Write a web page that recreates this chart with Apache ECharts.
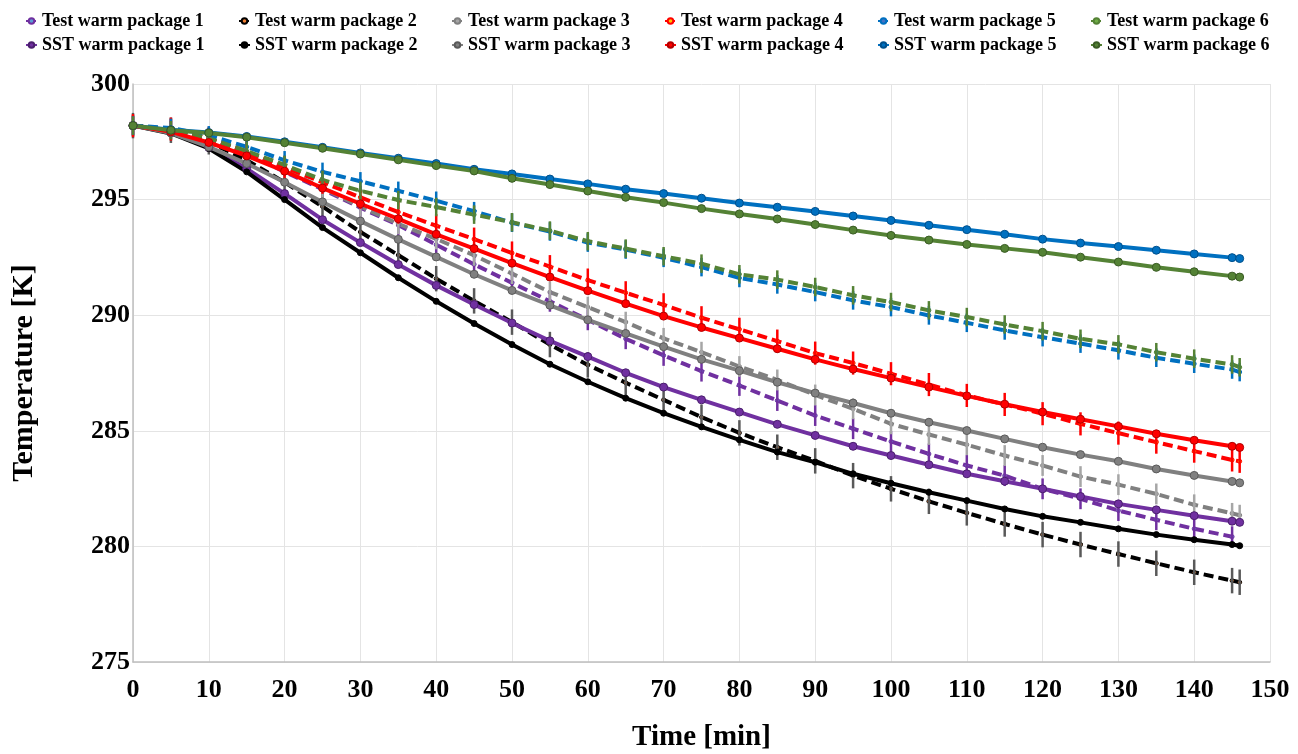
<!DOCTYPE html>
<html>
<head>
<meta charset="utf-8">
<script src="https://cdn.jsdelivr.net/npm/echarts@6/dist/echarts.min.js"></script>
<style>html,body{margin:0;padding:0;background:#fff}#c{width:1298px;height:754px}</style>
</head>
<body>
<div id="c"></div>
<script>
const times = [0,5,10,15,20,25,30,35,40,45,50,55,60,65,70,75,80,85,90,95,100,105,110,115,120,125,130,135,140,145,146];
const xTicks = [0,10,20,30,40,50,60,70,80,90,100,110,120,130,140,150];
const yTicks = [275,280,285,290,295,300];

const testNames = ['Test warm package 1','Test warm package 2','Test warm package 3','Test warm package 4','Test warm package 5','Test warm package 6'];
const sstNames  = ['SST warm package 1','SST warm package 2','SST warm package 3','SST warm package 4','SST warm package 5','SST warm package 6'];

// Test (measured) series - dashed with error bars
const test1 = [298.2,298.05,297.65,297.0,296.2,295.45,294.65,293.9,293.05,292.2,291.4,290.6,289.8,288.98,288.26,287.58,286.96,286.31,285.66,285.09,284.54,284.0,283.5,283.06,282.49,282.06,281.55,281.15,280.76,280.42,null];
const test2 = [298.2,298.0,297.5,296.7,295.75,294.7,293.6,292.6,291.58,290.62,289.7,288.73,287.85,287.08,286.34,285.59,284.91,284.29,283.7,283.06,282.49,281.95,281.45,280.97,280.51,280.08,279.67,279.27,278.88,278.52,278.45];
const test3 = [298.2,298.05,297.65,297.05,296.3,295.5,294.7,293.95,293.3,292.59,291.8,291.0,290.35,289.7,289.0,288.4,287.78,287.2,286.55,285.95,285.3,284.84,284.4,283.93,283.5,283.02,282.67,282.27,281.8,281.43,281.35];
const test4 = [298.2,298.05,297.65,297.05,296.4,295.75,295.1,294.46,293.87,293.29,292.69,292.1,291.52,290.97,290.45,289.89,289.39,288.88,288.36,287.93,287.47,287.0,286.53,286.14,285.74,285.3,284.9,284.51,284.12,283.74,283.68];
const test5 = [298.2,298.1,297.78,297.28,296.7,296.2,295.79,295.38,294.95,294.5,294.0,293.62,293.14,292.84,292.48,292.08,291.61,291.33,291.0,290.64,290.35,289.99,289.67,289.34,289.05,288.77,288.48,288.16,287.9,287.65,287.54];
const test6 = [298.2,298.0,297.65,297.1,296.5,295.85,295.38,294.98,294.68,294.35,294.02,293.66,293.2,292.88,292.55,292.23,291.77,291.54,291.22,290.86,290.57,290.21,289.92,289.6,289.31,288.98,288.74,288.4,288.12,287.87,287.75];
const testErr = [0.45,0.55,0.45,0.5,0.4,0.4];

// SST (simulated) series - solid
const sst1 = [298.2,297.9,297.25,296.34,295.26,294.13,293.14,292.19,291.29,290.46,289.66,288.89,288.21,287.51,286.89,286.34,285.81,285.28,284.8,284.33,283.93,283.53,283.14,282.82,282.49,282.16,281.84,281.58,281.33,281.09,281.04];
const sst2 = [298.2,297.86,297.21,296.2,295.0,293.79,292.7,291.62,290.6,289.64,288.73,287.88,287.12,286.41,285.76,285.17,284.61,284.08,283.64,283.14,282.73,282.34,281.98,281.62,281.3,281.04,280.76,280.51,280.29,280.08,280.03];
const sst3 = [298.2,297.88,297.28,296.56,295.75,294.9,294.07,293.28,292.52,291.77,291.07,290.43,289.8,289.21,288.64,288.09,287.6,287.1,286.63,286.2,285.76,285.37,285.01,284.65,284.29,283.97,283.68,283.35,283.07,282.81,282.75];
const sst4 = [298.2,297.93,297.47,296.89,296.23,295.5,294.82,294.17,293.5,292.88,292.25,291.65,291.06,290.5,289.96,289.47,289.01,288.55,288.09,287.67,287.28,286.89,286.51,286.15,285.81,285.5,285.19,284.87,284.59,284.33,284.28];
const sst5 = [298.2,298.02,297.9,297.73,297.5,297.26,297.02,296.79,296.56,296.31,296.11,295.89,295.68,295.45,295.26,295.06,294.85,294.67,294.49,294.29,294.1,293.89,293.7,293.5,293.29,293.12,292.97,292.81,292.65,292.49,292.45];
const sst6 = [298.2,298.0,297.88,297.7,297.46,297.22,296.97,296.72,296.47,296.24,295.92,295.65,295.37,295.1,294.87,294.61,294.38,294.16,293.92,293.68,293.45,293.25,293.06,292.89,292.72,292.51,292.3,292.07,291.88,291.69,291.65];

const tests = [test1,test2,test3,test4,test5,test6];
const ssts = [sst1,sst2,sst3,sst4,sst5,sst6];

const lineColors = ['#7030A0','#000000','#808080','#FF0000','#0070C0','#548235'];
const markBorder = ['#4B1F6E','#000000','#5A5A5A','#B00000','#00508C','#3A5C24'];
const testDot = ['#5B9BD5','#ED7D31','#A5A5A5','#FFC000','#4472C4','#70AD47'];
const errColors = ['#7030A0','#595959','#A6A6A6','#FF0000','#0070C0','#548235'];

const FONT = '"Liberation Serif","Times New Roman",serif';

const series = [];
tests.forEach((arr, i) => {
  series.push({
    name: testNames[i], type: 'line',
    data: times.map((t, k) => [t, arr[k]]),
    connectNulls: false,
    symbol: 'circle', symbolSize: 4, showSymbol: true,
    lineStyle: { color: lineColors[i], width: 4, type: [10, 5] },
    itemStyle: { color: testDot[i], borderColor: lineColors[i], borderWidth: 1 },
    z: 2
  });
});
tests.forEach((arr, i) => {
  series.push({
    type: 'custom',
    data: times.map((t, k) => arr[k] == null ? null : [t, arr[k] - testErr[i], arr[k] + testErr[i]]).filter(d => d),
    renderItem: function (params, api) {
      const p1 = api.coord([api.value(0), api.value(1)]);
      const p2 = api.coord([api.value(0), api.value(2)]);
      return { type: 'line', shape: { x1: p1[0], y1: p1[1], x2: p2[0], y2: p2[1] },
               style: { stroke: errColors[i], lineWidth: 2.5 } };
    },
    silent: true, z: 3
  });
});
ssts.forEach((arr, i) => {
  series.push({
    name: sstNames[i], type: 'line',
    data: times.map((t, k) => [t, arr[k]]),
    symbol: 'circle', symbolSize: i === 1 ? 6 : 8, showSymbol: true,
    lineStyle: { color: lineColors[i], width: 4 },
    itemStyle: { color: lineColors[i], borderColor: markBorder[i], borderWidth: 1 },
    z: 4
  });
});

const legends = testNames.map((n, i) => ({
  data: [testNames[i], sstNames[i]],
  orient: 'vertical',
  left: 20 + i * 213,
  top: 7,
  itemGap: 6,
  itemWidth: 11,
  itemHeight: 7,
  textStyle: { fontFamily: FONT, fontWeight: 'bold', fontSize: 18, color: '#000' }
}));

const chart = echarts.init(document.getElementById('c'), null, { renderer: 'canvas' });
chart.setOption({
  animation: false,
  backgroundColor: '#fff',
  legend: legends,
  grid: { left: 133, right: 28, top: 84, bottom: 92, outerBoundsMode: 'none', containLabel: false },
  xAxis: {
    type: 'value', min: xTicks[0], max: xTicks[xTicks.length - 1], interval: 10,
    name: 'Time [min]', nameLocation: 'middle', nameGap: 61,
    nameTextStyle: { fontFamily: FONT, fontWeight: 'bold', fontSize: 29, color: '#000' },
    axisLine: { lineStyle: { color: '#BFBFBF', width: 1.5 } },
    axisTick: { show: false },
    splitLine: { show: true, lineStyle: { color: '#E4E4E4', width: 1 } },
    axisLabel: { fontFamily: FONT, fontWeight: 'bold', fontSize: 26, color: '#000', margin: 15 }
  },
  yAxis: {
    type: 'value', min: yTicks[0], max: yTicks[yTicks.length - 1], interval: 5,
    name: 'Temperature [K]', nameLocation: 'middle', nameGap: 94, nameRotate: 90,
    nameTextStyle: { fontFamily: FONT, fontWeight: 'bold', fontSize: 30, color: '#000' },
    axisLine: { show: true, lineStyle: { color: '#BFBFBF', width: 1.5 } },
    axisTick: { show: false },
    splitLine: { show: true, lineStyle: { color: '#E4E4E4', width: 1 } },
    axisLabel: { fontFamily: FONT, fontWeight: 'bold', fontSize: 26, color: '#000', margin: 3 }
  },
  series: series
});
</script>
</body>
</html>
